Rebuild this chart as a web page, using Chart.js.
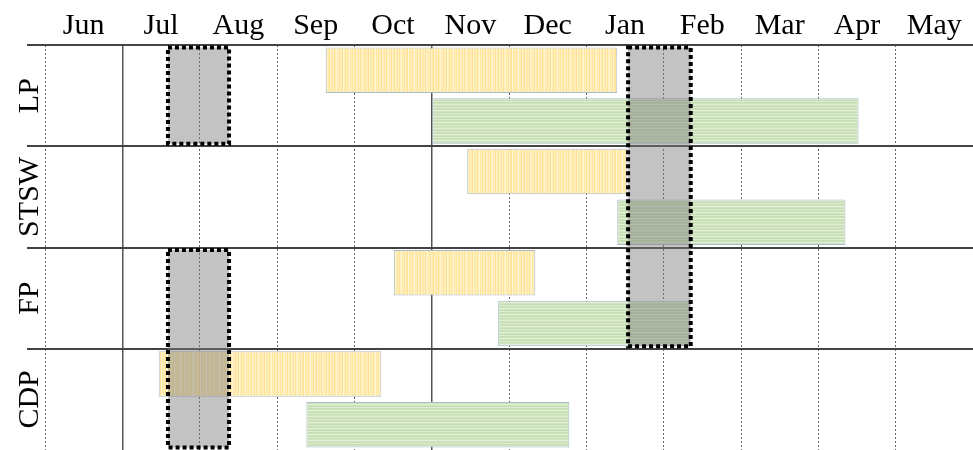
<!DOCTYPE html>
<html>
<head>
<meta charset="utf-8">
<script src="https://cdn.jsdelivr.net/npm/chart.js@4.4.0/dist/chart.umd.min.js"></script>
<style>
html, body { margin: 0; padding: 0; background: #fff; }
#wrap { width: 973px; height: 450px; }
</style>
</head>
<body>
<div id="wrap"><canvas id="gantt-chart"></canvas></div>
<script>
// month columns, 0 = start of Jun
var months = ['Jun', 'Jul', 'Aug', 'Sep', 'Oct', 'Nov', 'Dec', 'Jan', 'Feb', 'Mar', 'Apr', 'May'];
var rows = ['LP', 'STSW', 'FP', 'CDP'];

var yellowStart = [3.63, 5.46, 4.51, 1.47];
var yellowEnd = [7.40, 7.53, 6.34, 4.35];
var greenStart = [5.01, 7.40, 5.86, 3.38];
var greenEnd = [10.52, 10.35, 8.34, 6.78];

// gray highlighted periods (row index range)
var boxStart = [1.59, 1.59, 7.54];
var boxEnd = [2.38, 2.38, 8.35];
var boxFirstRow = [0, 2, 0];
var boxLastRow = [0, 3, 2];

// gridlines drawn solid instead of dotted
var solidLines = [1, 5];

const canvas = document.getElementById('gantt-chart');
const ctx = canvas.getContext('2d');

function stripes(colors, vertical) {
    var c = document.createElement('canvas');
    c.width = vertical ? colors.length : 1;
    c.height = vertical ? 1 : colors.length;
    var g = c.getContext('2d');
    colors.forEach(function (col, i) {
        g.fillStyle = col;
        if (vertical) g.fillRect(i, 0, 1, 1);
        else g.fillRect(0, i, 1, 1);
    });
    return ctx.createPattern(c, 'repeat');
}

var yellowFill = stripes(['#ffeeb8', '#ffe39a', '#fff2c8', '#ffeab0', '#ffe08f', '#fff4d2',
    '#ffecb3', '#ffe6a2', '#fff0c0', '#ffe293', '#ffefbd', '#fff5d6', '#ffe8a8'], true);
var greenFill = stripes(['#c6dfb2', '#cde3bb', '#e1eed8', '#cfe4bf', '#c4ddb0', '#deecd4'], false);

var subLabels = [];
rows.forEach(function (r) { subLabels.push(r + ' a'); subLabels.push(r + ' b'); });

var yellowData = subLabels.map(function (_, i) {
    return i % 2 === 0 ? [yellowStart[i / 2], yellowEnd[i / 2]] : null;
});
var greenData = subLabels.map(function (_, i) {
    return i % 2 === 1 ? [greenStart[(i - 1) / 2], greenEnd[(i - 1) / 2]] : null;
});

const overlay = {
    id: 'overlay',
    afterDatasetsDraw(chart) {
        var c = chart.ctx, x = chart.scales.x, y = chart.scales.y;
        var band = y.getPixelForValue(1) - y.getPixelForValue(0);
        var half = band * 0.9 / 2;
        c.save();
        for (var i = 0; i < boxStart.length; i++) {
            var l = x.getPixelForValue(boxStart[i]);
            var r = x.getPixelForValue(boxEnd[i]);
            var t = y.getPixelForValue(boxFirstRow[i] * 2) - half;
            var b = y.getPixelForValue(boxLastRow[i] * 2 + 1) + half;
            c.fillStyle = 'rgba(125,125,125,0.46)';
            c.fillRect(l, t, r - l, b - t);
            c.setLineDash([4, 3]);
            c.lineWidth = 4;
            c.strokeStyle = '#000';
            c.strokeRect(l, t, r - l, b - t);
        }
        c.restore();
    },
    afterDraw(chart) {
        var c = chart.ctx, s = chart.scales.rows;
        c.save();
        c.font = '30px "Liberation Serif"';
        c.fillStyle = '#000';
        c.textAlign = 'center';
        c.textBaseline = 'alphabetic';
        rows.forEach(function (r, i) {
            c.save();
            c.translate(38, s.getPixelForTick(i));
            c.rotate(-Math.PI / 2);
            c.fillText(r, 0, 0);
            c.restore();
        });
        c.restore();
    }
};

var ganttChart = new Chart(ctx, {
    type: 'bar',
    data: {
        labels: subLabels,
        datasets: [{
            label: 'yellow',
            data: yellowData,
            backgroundColor: yellowFill,
            borderColor: '#a8bccc',
            borderWidth: 1,
            borderSkipped: false,
            grouped: false,
            categoryPercentage: 1,
            barPercentage: 0.9,
            xAxisID: 'x',
            yAxisID: 'y'
        }, {
            label: 'green',
            data: greenData,
            backgroundColor: greenFill,
            borderColor: '#a8bccc',
            borderWidth: 1,
            borderSkipped: false,
            grouped: false,
            categoryPercentage: 1,
            barPercentage: 0.9,
            xAxisID: 'x',
            yAxisID: 'y'
        }]
    },
    options: {
        indexAxis: 'y',
        responsive: true,
        maintainAspectRatio: false,
        animation: false,
        layout: { padding: 0 },
        plugins: { legend: { display: false }, tooltip: { enabled: false } },
        scales: {
            x: {
                type: 'linear', position: 'top', min: 0, max: 12,
                ticks: { display: false, stepSize: 1 },
                grid: { color: '#666', lineWidth: 1, drawTicks: false },
                border: { display: false, dash: [2, 2] },
                afterFit: function (s) { s.height = 0; }
            },
            xs: {
                type: 'linear', position: 'top', min: 0, max: 12,
                afterBuildTicks: function (s) { s.ticks = solidLines.map(function (v) { return { value: v }; }); },
                ticks: { display: false },
                grid: { color: '#555', lineWidth: 1.5, drawTicks: false },
                border: { display: false },
                afterFit: function (s) { s.height = 0; }
            },
            months: {
                type: 'category', labels: months, position: 'top', offset: true,
                grid: { display: false },
                border: { display: false },
                ticks: { color: '#000', font: { family: 'Liberation Serif', size: 30 }, padding: -7, autoSkip: false, maxRotation: 0 },
                afterFit: function (s) { s.height = 45; }
            },
            y: { type: 'category', display: false, offset: true },
            rows: {
                type: 'category', labels: rows, position: 'left', offset: true,
                grid: {
                    offset: true, lineWidth: 2, tickLength: 18,
                    color: function (c) { return c.tick ? '#444' : 'rgba(0,0,0,0)'; }
                },
                border: { display: false },
                ticks: { display: false },
                afterFit: function (s) { s.width = 45; }
            }
        }
    },
    plugins: [overlay]
});
</script>
</body>
</html>
